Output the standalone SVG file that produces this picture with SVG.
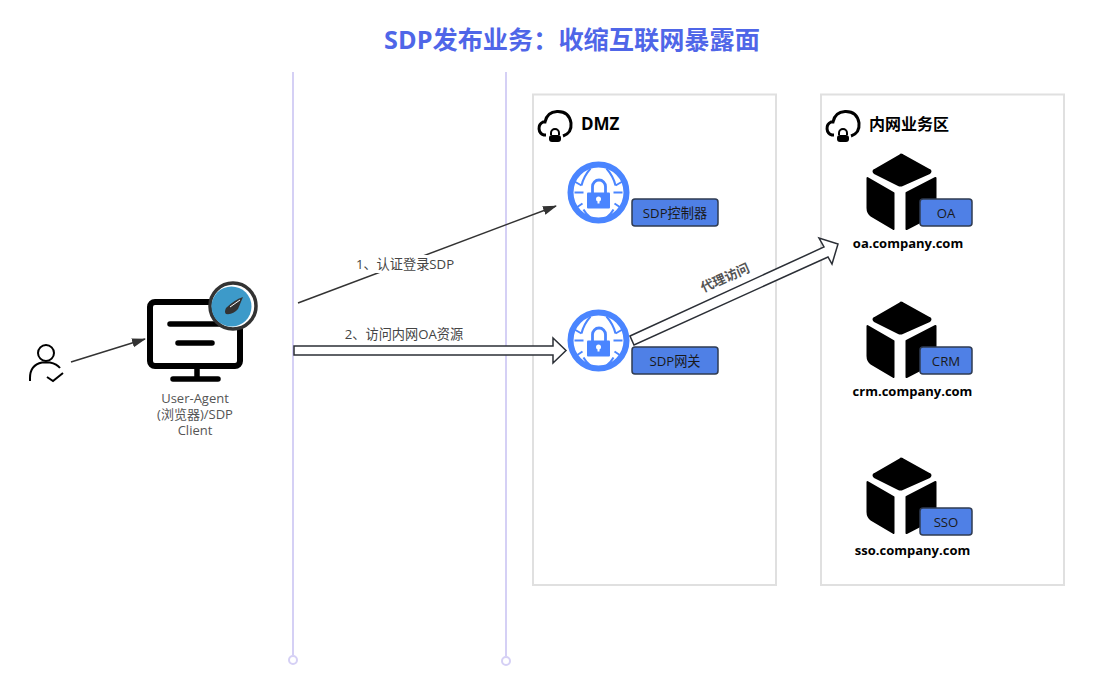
<svg xmlns="http://www.w3.org/2000/svg" width="1110" height="681" viewBox="0 0 1110 681">
<style>
text{font-family:"Open Sans","Noto Sans CJK SC",sans-serif;fill:#333}
.zone{fill:#fff;stroke:#e0e0e0;stroke-width:2}
.lane{stroke:#d5d0f5;stroke-width:2;fill:none}
.lanec{stroke:#d5d0f5;stroke-width:2;fill:#fff}
.tag{fill:#4f80e6;stroke:#2f3b52;stroke-width:1.5}
.tagt{font-size:13.200px;text-anchor:middle;fill:#1a1a1a}
.host{font-size:13px;font-weight:700;text-anchor:middle;fill:#000}
.zt{font-size:16px;font-weight:700;fill:#000}
.lbl{font-size:13px;text-anchor:middle;fill:#444}
.line{stroke:#333;stroke-width:1.5;fill:none}
.block{fill:#fff;stroke:#2b2f36;stroke-width:1.5;stroke-linejoin:miter}
</style>
<defs>
<marker id="ah" markerWidth="14" markerHeight="10" refX="13" refY="4.500" orient="auto" markerUnits="userSpaceOnUse"><path d="M0 0L14 4.500L0 9Z" fill="#333"/></marker>
<g id="globe">
<circle r="28" fill="#fff" stroke="#4a85ff" stroke-width="6"/>
<g fill="none" stroke="#4a85ff" stroke-width="2">
<path d="M-8-24Q-15-16-17-7M8-24Q15-16 17-7M-8 25Q-13 21-15 17M8 25Q13 21 15 17"/>
<path d="M-24-11L-17-7M24-11L17-7M-24 0H-15M15 0H24M-22 15L-16 11M22 15L16 11"/>
</g>
<path d="M-6 1V-6A6.500 6.500 0 0 1 7-6V1" fill="none" stroke="#4a85ff" stroke-width="2.800"/>
<rect x="-11.500" y="0" width="23" height="16" rx="1" fill="#4a85ff"/>
<circle cy="6.500" r="2.500" fill="#fff"/><rect x="-1" y="6.500" width="2" height="4.500" fill="#fff"/>
</g>
<g id="cube" fill="#000" stroke="#000" stroke-width="2" stroke-linejoin="round">
<path d="M0 2L-26 17Q-28 18-26 20L-2 32Q0 33 2 32L29 20Q31 18 29 17L2 2Q0 1 0 2Z"/>
<path d="M-33 25V55Q-33 60-29 63L-7 76V40Z"/>
<path d="M6 76V40L35 25V61Z"/>
</g>
<g id="cloud">
<path d="M9 25H7A7 7 0 0 1 6 12H8Q10 2 20 1.500Q32 1 34 13Q35 23 26 26" fill="none" stroke="#000" stroke-width="3"/>
<path d="M14 25V23A4 4 0 0 1 22 23V25" fill="none" stroke="#000" stroke-width="2"/>
<rect x="12" y="25" width="12" height="7" rx="3" fill="#000"/>
</g>
</defs>
<rect width="1110" height="681" fill="#fff"/>
<text x="572" y="49" style="font-size:25.200px;font-weight:700;text-anchor:middle;fill:#4f66e8">SDP发布业务：收缩互联网暴露面</text>
<g id="lanes">
<path class="lane" d="M293 72V655"/><circle class="lanec" cx="293" cy="660" r="4"/>
<path class="lane" d="M506 72V656"/><circle class="lanec" cx="506" cy="661" r="4"/>
</g>
<g id="zone-dmz"><rect class="zone" x="533" y="94.500" width="243" height="490.500"/><use href="#cloud" x="537" y="110"/><text class="zt" x="581" y="130" style="font-size:17px">DMZ</text></g>
<g id="zone-intranet"><rect class="zone" x="821" y="94.500" width="243" height="490.500"/><use href="#cloud" x="825" y="110"/><text class="zt" x="869" y="130">内网业务区</text></g>
<g id="connectors">
<path class="line" d="M71 362L145 339" marker-end="url(#ah)"/>
<path class="line" d="M298 303L556 206" marker-end="url(#ah)"/>
<path class="block" d="M294 346H553V338L566 350.500L553 363V355H294Z"/>
<path class="block" d="M630 336L824 247L819 238L838 244L832 264L828 257L634 345Z"/>
<rect x="355" y="255" width="100" height="18" fill="#fff"/>
<text class="lbl" x="405" y="269" style="font-size:13.200px">1、认证登录SDP</text>
<text class="lbl" x="404" y="339" style="font-size:13.200px">2、访问内网OA资源</text>
<text class="lbl" x="727" y="282" transform="rotate(-24 727 282)" style="font-weight:700;font-size:13px;fill:#555">代理访问</text>
</g>
<g id="user" fill="none" stroke="#000" stroke-width="2">
<circle cx="46" cy="353" r="8"/>
<path d="M30 381V378Q30 365 42 362.500H50Q57 364 60 368"/>
<path d="M47 377L53 381L63 373"/>
</g>
<g id="client">
<rect x="150" y="302" width="90" height="64" rx="5" fill="#fff" stroke="#000" stroke-width="6"/>
<path d="M197 368V378M173 379H218M170 324H220M178 343H212" stroke="#000" stroke-width="5.500" stroke-linecap="round" fill="none"/>
<circle cx="233" cy="306" r="23" fill="#fff" stroke="#333" stroke-width="3.500"/>
<circle cx="231.500" cy="306.500" r="20" fill="#3d9ac9"/>
<path d="M243 297L238 309Q233 315 226 314Q224 312 226 308Q234 300 243 297Z" fill="#333"/>
<path d="M240 300L230 307" stroke="#fff" stroke-width="1" fill="none"/>
<text class="lbl" x="195" y="403" style="fill:#555">User-Agent</text>
<text class="lbl" x="195" y="419" style="fill:#555">(浏览器)/SDP</text>
<text class="lbl" x="195" y="435" style="fill:#555">Client</text>
</g>
<g id="sdp-controller"><use href="#globe" x="598.500" y="192.500"/><rect class="tag" x="632" y="199" width="86" height="27" rx="3"/><text class="tagt" x="675" y="218">SDP控制器</text></g>
<g id="sdp-gateway"><use href="#globe" x="598.500" y="340.500"/><rect class="tag" x="632" y="347" width="86" height="27" rx="3"/><text class="tagt" x="675" y="366">SDP网关</text></g>
<g id="oa"><use href="#cube" x="900.500" y="153"/><rect class="tag" x="920" y="199" width="52" height="27" rx="3"/><text class="tagt" x="946" y="218">OA</text><text class="host" x="908" y="248">oa.company.com</text></g>
<g id="crm"><use href="#cube" x="900.500" y="301"/><rect class="tag" x="920" y="347" width="52" height="27" rx="3"/><text class="tagt" x="946" y="366">CRM</text><text class="host" x="912.500" y="396">crm.company.com</text></g>
<g id="sso"><use href="#cube" x="900.500" y="457"/><rect class="tag" x="920" y="508" width="52" height="27" rx="3"/><text class="tagt" x="946" y="527">SSO</text><text class="host" x="912.500" y="555">sso.company.com</text></g>
</svg>
